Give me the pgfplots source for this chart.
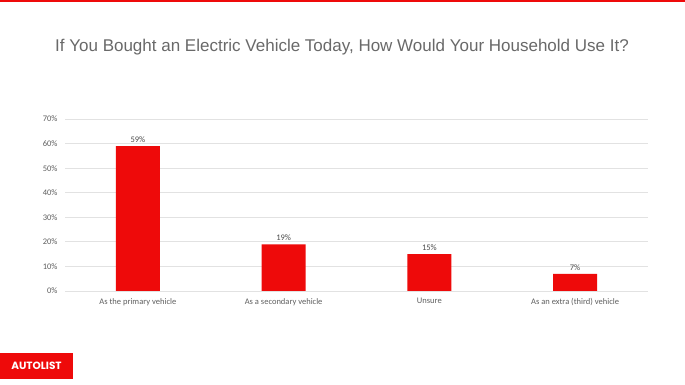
\documentclass[border=0pt]{standalone}
\usepackage{pgfplots}
\pgfplotsset{compat=1.18}
\usepackage{fontspec}
\setmainfont{Carlito}
\newfontfamily\titlefont{Liberation Sans}
\newfontfamily\logofont{Poppins}
\definecolor{barred}{RGB}{238,10,10}
\definecolor{txtgray}{RGB}{95,95,95}
\definecolor{titlegray}{RGB}{105,105,105}
\definecolor{gridgray}{RGB}{226,226,226}
\begin{document}
\begin{tikzpicture}
\fill[white] (0pt,0pt) rectangle (685pt,385pt);
\useasboundingbox (0pt,0pt) rectangle (685pt,385pt);
\fill[barred] (0pt,382.5pt) rectangle (685pt,385pt);
\node[font=\titlefont\fontsize{17}{20}\selectfont, text=titlegray] at (342pt,338pt) {If You Bought an Electric Vehicle Today, How Would Your Household Use It?};
\fill[barred] (0pt,6pt) rectangle (73pt,32pt);
\node[font=\logofont\bfseries\fontsize{10.5}{12}\selectfont, text=white] at (36.5pt,19pt) {AUTOLIST};
\begin{axis}[
  at={(65pt,94pt)}, anchor=south west,
  scale only axis, width=583pt, height=172pt,
  xmin=-0.5, xmax=3.5, ymin=0, ymax=70,
  /pgf/number format/assume math mode=true,
  xtick={0,1,2,3},
  xticklabels={As the primary vehicle, As a secondary vehicle, Unsure, As an extra (third) vehicle},
  ytick={0,10,20,30,40,50,60,70},
  yticklabels={0\%,10\%,20\%,30\%,40\%,50\%,60\%,70\%},
  axis line style={draw=none},
  major tick length=0pt,
  ymajorgrids, major grid style={gridgray, line width=0.8pt},
  tick label style={font=\fontsize{8.5}{10}\selectfont, text=txtgray},
  yticklabel style={xshift=-4pt},
  xticklabel style={yshift=-4pt},
  clip=false,
]
\addplot[ybar, bar width=44pt, fill=barred, draw=none,
  nodes near coords={\pgfmathprintnumber{\pgfplotspointmeta}\%},
  every node near coord/.append style={font=\fontsize{8.5}{10}\selectfont, text=txtgray!80!black, yshift=0pt}]
  coordinates {(0,59) (1,19) (2,15) (3,7)};
\end{axis}
\end{tikzpicture}
\end{document}
